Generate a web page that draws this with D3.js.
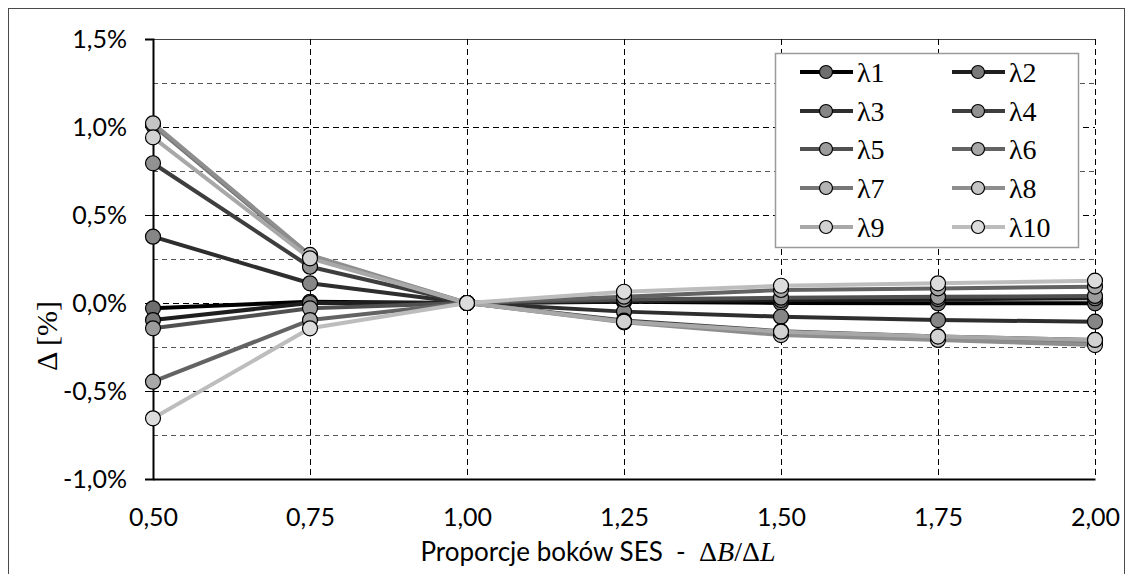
<!DOCTYPE html>
<html>
<head>
<meta charset="utf-8">
<script src="https://cdn.jsdelivr.net/npm/d3@7"></script>
<style>
  html, body { margin: 0; padding: 0; background: #fff; }
  svg { display: block; }
  .keep-spaces { white-space: pre; }
</style>
</head>
<body>
<svg id="chart" width="1131" height="574"></svg>
<script>
// Aspect ratio of the SES cell (ΔB/ΔL) on the x axis
const ratios = [0.50, 0.75, 1.00, 1.25, 1.50, 1.75, 2.00];

// Relative difference Δ in percent for each wavelength channel
const lambda1  = [-0.030,  0.007, 0,  0.007,  0.000, -0.002, -0.002];
const lambda2  = [-0.097,  0.000, 0,  0.010,  0.017,  0.022,  0.027];
const lambda3  = [ 0.377,  0.112, 0, -0.049, -0.078, -0.097, -0.106];
const lambda4  = [ 0.794,  0.206, 0, -0.100, -0.160, -0.190, -0.210];
const lambda5  = [-0.144, -0.030, 0,  0.020,  0.030,  0.035,  0.040];
const lambda6  = [-0.447, -0.097, 0,  0.036,  0.074,  0.083,  0.093];
const lambda7  = [ 1.010,  0.265, 0, -0.104, -0.172, -0.200, -0.225];
const lambda8  = [ 1.021,  0.273, 0, -0.110, -0.182, -0.210, -0.239];
const lambda9  = [ 0.941,  0.254, 0, -0.106, -0.163, -0.191, -0.210];
const lambda10 = [-0.655, -0.144, 0,  0.064,  0.098,  0.112,  0.127];

const seriesNames = ["λ1","λ2","λ3","λ4","λ5","λ6","λ7","λ8","λ9","λ10"];
const seriesValues = [lambda1, lambda2, lambda3, lambda4, lambda5,
                      lambda6, lambda7, lambda8, lambda9, lambda10];

const yTicks = [-1.0, -0.5, 0.0, 0.5, 1.0, 1.5];
const yMinorTicks = [-0.75, -0.25, 0.25, 0.75, 1.25];

// Styling: line colour and marker fill, dark to light
const lineColors   = ["#000000","#1e1e1e","#2e2e2e","#3e3e3e","#505050",
                      "#636363","#767676","#8e8e8e","#a8a8a8","#bdbdbd"];
const markerColors = ["#6e6e6e","#7a7a7a","#868686","#929292","#9c9c9c",
                      "#a8a8a8","#b4b4b4","#c4c4c4","#d2d2d2","#dcdcdc"];

const svg = d3.select("#chart");
const fontSans = "Lato, 'Open Sans', sans-serif";
const fontSerif = "'Liberation Serif', 'DejaVu Serif', serif";

// Outer chart frame
svg.append("rect")
  .attr("x", 8.5).attr("y", 8.5)
  .attr("width", 1116).attr("height", 600)
  .attr("fill", "#fff").attr("stroke", "#4a4a4a").attr("stroke-width", 1);

const x = d3.scaleLinear().domain([0.5, 2.0]).range([153, 1095]);
const y = d3.scaleLinear().domain([-1.0, 1.5]).range([479, 39]);

const fmtComma = (v, digits) => v.toFixed(digits).replace(".", ",");

// Horizontal grid lines
const grid = svg.append("g");
grid.selectAll("line.minor").data(yMinorTicks).join("line")
  .attr("x1", x(0.5)).attr("x2", x(2.0))
  .attr("y1", d => Math.round(y(d)) + 0.5).attr("y2", d => Math.round(y(d)) + 0.5)
  .attr("stroke", "#555").attr("stroke-width", 1).attr("stroke-dasharray", "5,4");
grid.selectAll("line.major").data(yTicks.filter(d => d > -1 && d < 1.5)).join("line")
  .attr("x1", x(0.5)).attr("x2", x(2.0))
  .attr("y1", d => Math.round(y(d)) + 0.5).attr("y2", d => Math.round(y(d)) + 0.5)
  .attr("stroke", "#000").attr("stroke-width", 1).attr("stroke-dasharray", "6,4");
grid.append("line")
  .attr("x1", x(0.5)).attr("x2", x(2.0))
  .attr("y1", Math.round(y(1.5)) + 0.5).attr("y2", Math.round(y(1.5)) + 0.5)
  .attr("stroke", "#444").attr("stroke-width", 1);

// Vertical grid lines
grid.selectAll("line.v").data(ratios.slice(1)).join("line")
  .attr("x1", d => Math.round(x(d)) + 0.5).attr("x2", d => Math.round(x(d)) + 0.5)
  .attr("y1", y(1.5)).attr("y2", y(-1.0))
  .attr("stroke", "#000").attr("stroke-width", 1).attr("stroke-dasharray", "6,4");

// Y axis
const yAxis = d3.axisLeft(y).tickValues(yTicks).tickSize(8).tickPadding(18)
  .tickFormat(d => fmtComma(d, 1) + "%");
const gy = svg.append("g").attr("transform", `translate(${x(0.5)},0)`).call(yAxis);
gy.select(".domain").attr("stroke", "#000").attr("stroke-width", 2);
gy.selectAll(".tick line").attr("stroke", "#000").attr("stroke-width", 1);
gy.selectAll(".tick text").attr("font-family", fontSans).attr("font-size", 25)
  .attr("fill", "#000");

// X axis
const xAxis = d3.axisBottom(x).tickValues(ratios).tickSize(0).tickPadding(29)
  .tickFormat(d => fmtComma(d, 2));
const gx = svg.append("g").attr("transform", `translate(0,${y(-1.0)})`).call(xAxis);
gx.select(".domain").attr("stroke", "#000").attr("stroke-width", 2);
gx.selectAll(".tick text").attr("font-family", fontSans).attr("font-size", 25)
  .attr("fill", "#000");

// Axis titles
const xTitle = svg.append("text")
  .attr("class", "keep-spaces")
  .attr("x", 598).attr("y", 561)
  .attr("text-anchor", "middle")
  .attr("font-family", fontSans).attr("font-size", 26).attr("fill", "#000");
xTitle.append("tspan").text("Proporcje boków SES  -  ");
xTitle.append("tspan").attr("font-family", fontSerif).attr("font-size", 28).text("Δ");
xTitle.append("tspan").attr("font-family", fontSerif).attr("font-size", 28)
  .attr("font-style", "italic").text("B");
xTitle.append("tspan").attr("font-family", fontSerif).attr("font-size", 28).text("/Δ");
xTitle.append("tspan").attr("font-family", fontSerif).attr("font-size", 28)
  .attr("font-style", "italic").text("L");

svg.append("text")
  .attr("transform", "translate(57,336) rotate(-90)")
  .attr("text-anchor", "middle")
  .attr("font-family", fontSerif).attr("font-size", 30).attr("fill", "#000")
  .text("Δ [%]");

// Series: line then markers, later series on top
const line = d3.line().x((d, i) => x(ratios[i])).y(d => y(d));
const plot = svg.append("g");
seriesValues.forEach((vals, k) => {
  const g = plot.append("g");
  g.append("path").datum(vals)
    .attr("d", line)
    .attr("fill", "none")
    .attr("stroke", lineColors[k])
    .attr("stroke-width", 4)
    .attr("stroke-linejoin", "round");
  g.selectAll("circle").data(vals).join("circle")
    .attr("cx", (d, i) => x(ratios[i]))
    .attr("cy", d => y(d))
    .attr("r", 7.5)
    .attr("fill", markerColors[k])
    .attr("stroke", "#000")
    .attr("stroke-width", 1.2);
});

// Legend
const legend = svg.append("g");
legend.append("rect")
  .attr("x", 775.5).attr("y", 53.5).attr("width", 303).attr("height", 194)
  .attr("fill", "#fff").attr("stroke", "#9a9a9a").attr("stroke-width", 1.5);
const rowY = [72, 111, 149, 188, 227];
const colX = [800, 952];
seriesNames.forEach((name, k) => {
  const cx = colX[k % 2];
  const cy = rowY[Math.floor(k / 2)];
  legend.append("line")
    .attr("x1", cx).attr("x2", cx + 53).attr("y1", cy).attr("y2", cy)
    .attr("stroke", lineColors[k]).attr("stroke-width", 4);
  legend.append("circle")
    .attr("cx", cx + 26).attr("cy", cy).attr("r", 6.5)
    .attr("fill", markerColors[k]).attr("stroke", "#000").attr("stroke-width", 1.2);
  legend.append("text")
    .attr("x", cx + 57).attr("y", cy + 10)
    .attr("font-family", fontSerif).attr("font-size", 28).attr("fill", "#000")
    .text(name);
});
</script>
</body>
</html>
